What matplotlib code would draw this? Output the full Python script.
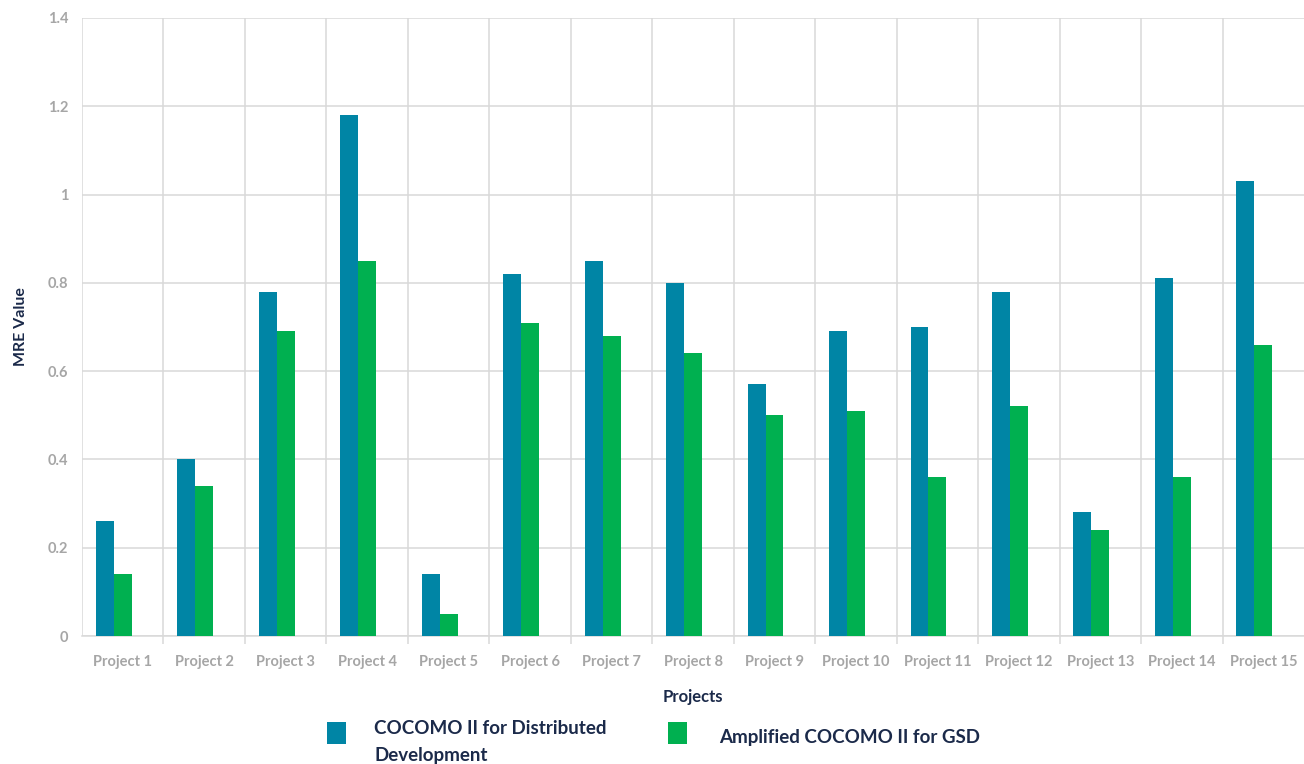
import numpy as np
import matplotlib
matplotlib.use('Agg')
import matplotlib.pyplot as plt
from matplotlib.patches import Rectangle

projects = ['Project %d' % i for i in range(1, 16)]
cocomo_dist = [0.26, 0.40, 0.78, 1.18, 0.14, 0.82, 0.85, 0.80, 0.57, 0.69, 0.70, 0.78, 0.28, 0.81, 1.03]
amplified_gsd = [0.14, 0.34, 0.69, 0.85, 0.05, 0.71, 0.68, 0.64, 0.50, 0.51, 0.36, 0.52, 0.24, 0.36, 0.66]
series_names = ['COCOMO II for Distributed\nDevelopment', 'Amplified COCOMO II for GSD']

blue = '#0085A5'
green = '#00B050'
grid_col = '#D9D9D9'
tick_col = '#A6A6A6'
label_col = '#1B2A4A'

plt.rcParams['font.family'] = ['Lato', 'DejaVu Sans']

W, H = 1304, 764
fig = plt.figure(figsize=(W / 100, H / 100), dpi=100)
ax = fig.add_axes([0.0629, 0.1675, 0.9371, 0.809])

# three slots per category, the third one left empty
x = np.arange(len(projects))
w = 0.22
ax.bar(x - w, cocomo_dist, w, color=blue, zorder=3)
ax.bar(x, amplified_gsd, w, color=green, zorder=3)

ax.set_xlim(-0.5, len(projects) - 0.5)
ax.set_ylim(0, 1.4)
ax.set_yticks(np.arange(0, 1.41, 0.2))
ax.set_yticklabels(['0', '0.2', '0.4', '0.6', '0.8', '1', '1.2', '1.4'])
ax.set_xticks(x)
ax.set_xticklabels(projects)
ax.set_xticks(np.arange(0.5, len(projects) - 0.5, 1.0), minor=True)

ax.grid(axis='y', color=grid_col, linewidth=1.1, zorder=0)
ax.grid(axis='x', which='minor', color=grid_col, linewidth=1.1, zorder=0)
ax.axvline(-0.5, color=grid_col, linewidth=1.1, zorder=0)

for s in ['top', 'right', 'left']:
    ax.spines[s].set_visible(False)
ax.spines['bottom'].set_color(grid_col)
ax.spines['bottom'].set_linewidth(1.1)

ax.tick_params(axis='x', which='major', length=0, pad=14)
ax.tick_params(axis='x', which='minor', length=6, color=grid_col, width=1.1)
ax.tick_params(axis='y', length=0, pad=10)
for lab in ax.get_xticklabels() + ax.get_yticklabels():
    lab.set_color(tick_col)
    lab.set_fontsize(10.5)
    lab.set_fontweight('bold')

ax.set_ylabel('MRE Value', color=label_col, fontsize=11.5, fontweight='bold', labelpad=14)
ax.set_xlabel('Projects', color=label_col, fontsize=12, fontweight='bold', labelpad=14)

# legend below the axis title, laid out by hand (pixel positions from top-left)
def px(xp, yp):
    return xp / W, 1 - yp / H

sq_w, sq_h = 19, 22
for left, col in [(327, blue), (668, green)]:
    x0, y0 = px(left, 744)
    fig.patches.append(Rectangle((x0, y0), sq_w / W, sq_h / H, transform=fig.transFigure,
                                 facecolor=col, edgecolor='none'))

first, second = series_names[0].split('\n')
leg_font = dict(color=label_col, fontsize=13.5, fontweight='bold', va='center', ha='left')
fig.text(*px(374, 728), first, **leg_font)
fig.text(*px(374, 755), second, **leg_font)
fig.text(*px(719, 737), series_names[1], **leg_font)

fig.savefig('out.png', dpi=100)
